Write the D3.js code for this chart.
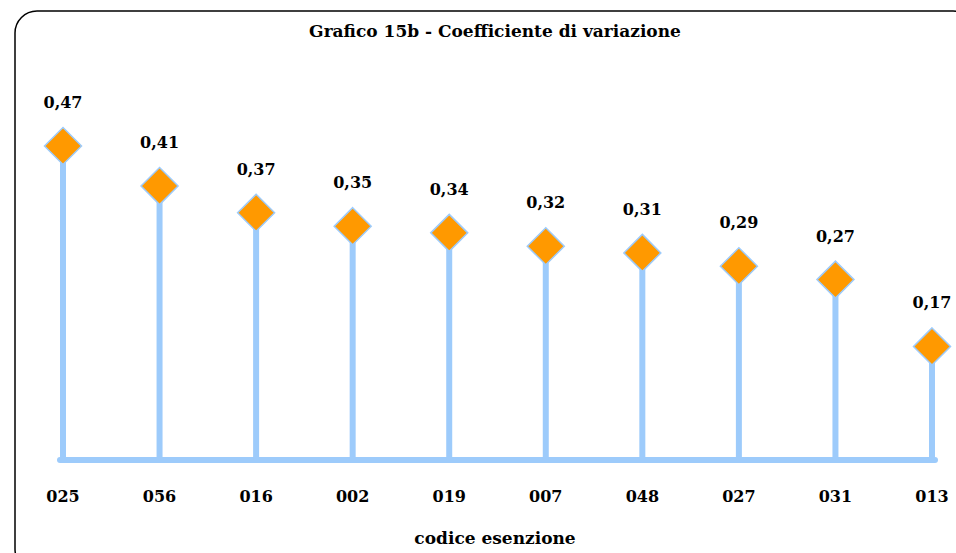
<!DOCTYPE html>
<html>
<head>
<meta charset="utf-8">
<script src="https://cdn.jsdelivr.net/npm/d3@7"></script>
<style>
  body { margin: 0; background: #fff; }
  text { font-family: "DejaVu Serif", "Liberation Serif", serif; font-weight: bold; fill: #000; }
</style>
</head>
<body>
<svg width="956" height="553"></svg>
<script>
const codes = ["025", "056", "016", "002", "019", "007", "048", "027", "031", "013"];
const coeffs = [0.47, 0.41, 0.37, 0.35, 0.34, 0.32, 0.31, 0.29, 0.27, 0.17];
const chartTitle = "Grafico 15b - Coefficiente di variazione";
const xTitle = "codice esenzione";

const svg = d3.select("svg");

// rounded frame (right and bottom edge fall outside the picture)
svg.append("rect")
    .attr("x", 15).attr("y", 11)
    .attr("width", 960).attr("height", 560)
    .attr("rx", 22).attr("ry", 22)
    .attr("fill", "none")
    .attr("stroke", "#000")
    .attr("stroke-width", 1.5);

const x = d3.scalePoint()
    .domain(codes)
    .range([63, 932]);

const y = d3.scaleLinear()
    .domain([0, 0.47])
    .range([460, 146]);

const blue = "#9dcbfb";

// baseline
svg.append("line")
    .attr("x1", x(codes[0]) - 3).attr("x2", x(codes[codes.length - 1]) + 3)
    .attr("y1", y(0)).attr("y2", y(0))
    .attr("stroke", blue)
    .attr("stroke-width", 6)
    .attr("stroke-linecap", "round");

// stems
svg.selectAll(".stem")
    .data(codes)
    .enter().append("line")
    .attr("class", "stem")
    .attr("x1", d => x(d)).attr("x2", d => x(d))
    .attr("y1", y(0)).attr("y2", (d, i) => y(coeffs[i]))
    .attr("stroke", blue)
    .attr("stroke-width", 6);

// diamonds
const r = 18.5;
svg.selectAll(".pt")
    .data(codes)
    .enter().append("path")
    .attr("class", "pt")
    .attr("d", (d, i) => {
        const cx = x(d), cy = y(coeffs[i]);
        return `M${cx},${cy - r}L${cx + r},${cy}L${cx},${cy + r}L${cx - r},${cy}Z`;
    })
    .attr("fill", "#ff9900")
    .attr("stroke", blue)
    .attr("stroke-width", 1.5);

// value labels
svg.selectAll(".val")
    .data(codes)
    .enter().append("text")
    .attr("class", "val")
    .attr("x", d => x(d))
    .attr("y", (d, i) => y(coeffs[i]) - 38)
    .attr("text-anchor", "middle")
    .style("font-size", "16px")
    .text((d, i) => d3.format(".2f")(coeffs[i]).replace(".", ","));

// category labels
svg.selectAll(".cat")
    .data(codes)
    .enter().append("text")
    .attr("class", "cat")
    .attr("x", d => x(d))
    .attr("y", 502)
    .attr("text-anchor", "middle")
    .style("font-size", "16px")
    .text(d => d);

svg.append("text")
    .attr("x", 495).attr("y", 37)
    .attr("text-anchor", "middle")
    .style("font-size", "17px")
    .text(chartTitle);

svg.append("text")
    .attr("x", 495).attr("y", 544)
    .attr("text-anchor", "middle")
    .style("font-size", "17px")
    .text(xTitle);
</script>
</body>
</html>
